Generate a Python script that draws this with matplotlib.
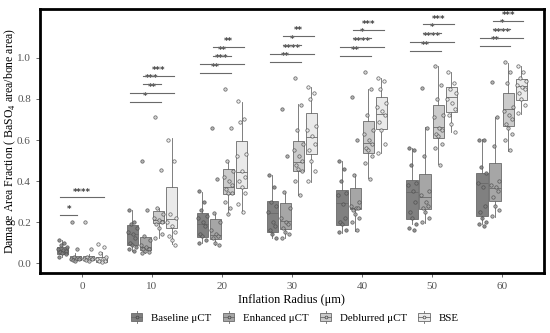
import matplotlib
matplotlib.use("Agg")
import matplotlib.pyplot as plt
import matplotlib.patches as mpatches
from matplotlib.legend_handler import HandlerBase
from matplotlib.lines import Line2D

plt.rcParams['font.family'] = ['Liberation Serif', 'DejaVu Serif']
plt.rcParams['mathtext.fontset'] = 'custom'
plt.rcParams['mathtext.rm'] = 'Liberation Serif'

radius = [0, 10, 20, 30, 40, 50, 60]
series = ["Baseline μCT", "Enhanced μCT", "Deblurred μCT", "BSE"]
fills = ["#808080", "#a6a6a6", "#cbcbcb", "#eaeaea"]

# box statistics per series, one value per radius
q1 = {
    "Baseline μCT":  [0.045, 0.088, 0.128, 0.153, 0.185, 0.213, 0.229],
    "Enhanced μCT":  [0.015, 0.063, 0.115, 0.166, 0.263, 0.262, 0.304],
    "Deblurred μCT": [0.016, 0.193, 0.335, 0.449, 0.535, 0.608, 0.670],
    "BSE":           [0.006, 0.169, 0.364, 0.530, 0.652, 0.738, 0.795],
}
med = {
    "Baseline μCT":  [0.062, 0.140, 0.190, 0.242, 0.294, 0.345, 0.389],
    "Enhanced μCT":  [0.022, 0.080, 0.136, 0.206, 0.267, 0.320, 0.364],
    "Deblurred μCT": [0.022, 0.210, 0.369, 0.491, 0.584, 0.662, 0.750],
    "BSE":           [0.015, 0.215, 0.445, 0.613, 0.727, 0.808, 0.863],
}
q3 = {
    "Baseline μCT":  [0.080, 0.185, 0.245, 0.304, 0.356, 0.405, 0.440],
    "Enhanced μCT":  [0.032, 0.128, 0.213, 0.291, 0.364, 0.433, 0.486],
    "Deblurred μCT": [0.033, 0.254, 0.457, 0.597, 0.694, 0.771, 0.831],
    "BSE":           [0.030, 0.369, 0.597, 0.733, 0.808, 0.860, 0.898],
}
lo = {
    "Baseline μCT":  [0.030, 0.060, 0.097, 0.120, 0.148, 0.190, 0.190],
    "Enhanced μCT":  [0.008, 0.050, 0.090, 0.124, 0.158, 0.197, 0.226],
    "Deblurred μCT": [0.010, 0.120, 0.238, 0.332, 0.413, 0.483, 0.548],
    "BSE":           [0.004, 0.093, 0.245, 0.397, 0.535, 0.640, 0.725],
}
hi = {
    "Baseline μCT":  [0.110, 0.258, 0.348, 0.429, 0.500, 0.559, 0.603],
    "Enhanced μCT":  [0.050, 0.128, 0.245, 0.345, 0.434, 0.662, 0.711],
    "Deblurred μCT": [0.045, 0.270, 0.500, 0.774, 0.849, 0.961, 0.977],
    "BSE":           [0.055, 0.608, 0.787, 0.857, 0.900, 0.933, 0.961],
}

baseline_pts = [
    [0.11, 0.10, 0.09, 0.08, 0.07, 0.065, 0.06, 0.055, 0.05, 0.045, 0.03],
    [0.26, 0.20, 0.19, 0.17, 0.15, 0.14, 0.12, 0.10, 0.09, 0.08, 0.07, 0.06],
    [0.35, 0.30, 0.26, 0.23, 0.22, 0.20, 0.18, 0.14, 0.13, 0.11, 0.10],
    [0.43, 0.37, 0.30, 0.28, 0.25, 0.20, 0.18, 0.16, 0.14, 0.12],
    [0.50, 0.46, 0.40, 0.34, 0.33, 0.29, 0.22, 0.20, 0.19, 0.16, 0.15],
    [0.56, 0.55, 0.48, 0.39, 0.38, 0.35, 0.30, 0.25, 0.22, 0.19, 0.17, 0.16],
    [0.60, 0.60, 0.47, 0.44, 0.39, 0.37, 0.28, 0.25, 0.22, 0.20, 0.19, 0.18],
]
enhanced_pts = [
    [0.20, 0.07, 0.03, 0.025, 0.02, 0.02, 0.018, 0.015, 0.012],
    [0.50, 0.26, 0.13, 0.11, 0.09, 0.08, 0.07, 0.07, 0.06, 0.055, 0.05],
    [0.66, 0.41, 0.245, 0.20, 0.16, 0.14, 0.13, 0.12, 0.10, 0.09],
    [0.75, 0.52, 0.345, 0.27, 0.22, 0.20, 0.19, 0.17, 0.15, 0.14, 0.124],
    [0.81, 0.60, 0.43, 0.30, 0.28, 0.27, 0.27, 0.26, 0.24, 0.22, 0.20, 0.16],
    [0.855, 0.66, 0.52, 0.35, 0.33, 0.30, 0.28, 0.27, 0.25, 0.22, 0.20],
    [0.885, 0.71, 0.57, 0.40, 0.38, 0.37, 0.35, 0.32, 0.28, 0.26, 0.23],
]
deblurred_pts = [
    [0.20, 0.07, 0.03, 0.025, 0.022, 0.02, 0.018, 0.015, 0.012],
    [0.71, 0.455, 0.27, 0.24, 0.22, 0.21, 0.20, 0.19, 0.17, 0.14, 0.12],
    [0.85, 0.66, 0.50, 0.45, 0.42, 0.40, 0.38, 0.36, 0.34, 0.34, 0.30, 0.27, 0.24],
    [0.90, 0.77, 0.65, 0.58, 0.55, 0.52, 0.50, 0.48, 0.46, 0.45, 0.40, 0.33],
    [0.93, 0.85, 0.72, 0.65, 0.63, 0.60, 0.58, 0.56, 0.55, 0.52, 0.49, 0.41],
    [0.96, 0.87, 0.80, 0.72, 0.71, 0.66, 0.65, 0.63, 0.62, 0.58, 0.56, 0.48],
    [0.98, 0.93, 0.88, 0.76, 0.74, 0.72, 0.70, 0.68, 0.66, 0.63, 0.60, 0.55],
]
bse_pts = [
    [0.095, 0.08, 0.05, 0.03, 0.02, 0.015, 0.01, 0.008, 0.006],
    [0.60, 0.50, 0.24, 0.22, 0.20, 0.18, 0.15, 0.13, 0.11, 0.09],
    [0.79, 0.70, 0.69, 0.53, 0.52, 0.45, 0.42, 0.40, 0.37, 0.34, 0.29, 0.25],
    [0.86, 0.83, 0.80, 0.67, 0.65, 0.62, 0.58, 0.55, 0.50, 0.45, 0.40],
    [0.90, 0.89, 0.85, 0.78, 0.76, 0.74, 0.72, 0.69, 0.65, 0.58, 0.535],
    [0.93, 0.88, 0.85, 0.83, 0.80, 0.78, 0.75, 0.72, 0.68, 0.64],
    [0.96, 0.93, 0.90, 0.89, 0.87, 0.86, 0.85, 0.83, 0.80, 0.77, 0.73],
]
points = {"Baseline μCT": baseline_pts, "Enhanced μCT": enhanced_pts,
          "Deblurred μCT": deblurred_pts, "BSE": bse_pts}

# significance brackets: (radius index, series a, series b, height, label)
sig = [
    (0, 0, 1, 0.235, "*"), (0, 0, 3, 0.320, "****"),
    (1, 0, 2, 0.787, "*"), (1, 0, 3, 0.831, "**"), (1, 1, 2, 0.872, "***"), (1, 1, 3, 0.914, "***"),
    (2, 0, 2, 0.928, "**"), (2, 0, 3, 0.972, "***"), (2, 1, 2, 1.011, "**"), (2, 1, 3, 1.055, "**"),
    (3, 0, 2, 0.979, "**"), (3, 0, 3, 1.021, "****"), (3, 1, 2, 1.062, "*"), (3, 1, 3, 1.106, "**"),
    (4, 0, 2, 1.011, "**"), (4, 0, 3, 1.054, "****"), (4, 1, 2, 1.096, "*"), (4, 1, 3, 1.138, "***"),
    (5, 0, 2, 1.036, "**"), (5, 0, 3, 1.078, "****"), (5, 1, 2, 1.122, "*"), (5, 1, 3, 1.164, "***"),
    (6, 0, 2, 1.057, "**"), (6, 0, 3, 1.098, "****"), (6, 1, 2, 1.140, "*"), (6, 1, 3, 1.180, "***"),
]

offsets = [-0.28, -0.094, 0.094, 0.28]
box_w = 0.165
jitter = [-0.05, 0.03, -0.02, 0.06, -0.06, 0.01, 0.045, -0.035, 0.0, 0.055, -0.045, 0.02, -0.01]
edge = "#6a6a6a"


class BoxHandler(HandlerBase):
    def create_artists(self, legend, orig_handle, xdescent, ydescent, width, height, fontsize, trans):
        fc = orig_handle.get_facecolor()
        cx = width / 2 - xdescent
        w = width * 0.8
        rect = mpatches.Rectangle((cx - w / 2, -ydescent + 0.05 * height), w, 0.9 * height,
                                  facecolor=fc, edgecolor=edge, lw=0.6, transform=trans)
        vl = Line2D([cx, cx], [-ydescent - 0.2 * height, -ydescent + 1.2 * height], color=edge, lw=0.6, transform=trans)
        ml = Line2D([cx - w / 2, cx + w / 2], [-ydescent + 0.5 * height] * 2, color=edge, lw=0.6, transform=trans)
        dot = Line2D([cx], [-ydescent + 0.5 * height], marker="o", ms=2, mfc=fc, mec="#444444", mew=0.5, transform=trans)
        return [vl, rect, ml, dot]


fig = plt.figure(figsize=(5.5, 3.33), dpi=100)
ax = fig.add_axes([0.0727, 0.18, 0.916, 0.793])

for s_i, name in enumerate(series):
    stats = []
    pos = []
    for g in range(len(radius)):
        stats.append(dict(med=med[name][g], q1=q1[name][g], q3=q3[name][g],
                          whislo=lo[name][g], whishi=hi[name][g], fliers=[]))
        pos.append(g + 1 + offsets[s_i])
    ax.bxp(stats, positions=pos, widths=box_w, patch_artist=True, showfliers=False, showcaps=False,
           boxprops=dict(facecolor=fills[s_i], edgecolor=edge, lw=0.6),
           medianprops=dict(color=edge, lw=0.6),
           whiskerprops=dict(color=edge, lw=0.6), zorder=2)
    for g in range(len(radius)):
        vals = points[name][g]
        xs = [g + 1 + offsets[s_i] + jitter[k % len(jitter)] for k in range(len(vals))]
        ax.scatter(xs, vals, s=6, facecolor=fills[s_i], edgecolor="#4a4a4a", linewidths=0.5, zorder=3, alpha=0.85)

for g, a, b, h, lab in sig:
    xa = g + 1 + offsets[a] - 0.03
    xb = g + 1 + offsets[b] + 0.03
    ax.plot([xa, xb], [h, h], color="#6a6a6a", lw=0.8, zorder=4)
    ax.text((xa + xb) / 2, h + 0.004, lab, ha="center", va="bottom", fontsize=6.2,
            fontfamily="DejaVu Sans", fontweight="bold", color="#3a3a3a")

ax.set_xlim(0.4, 7.6)
ax.set_ylim(-0.049, 1.239)
ax.set_xticks(range(1, len(radius) + 1))
ax.set_xticklabels([str(r) for r in radius])
ax.set_yticks([0.0, 0.2, 0.4, 0.6, 0.8, 1.0])
ax.set_yticklabels(["0.0", "0.2", "0.4", "0.6", "0.8", "1.0"])
ax.tick_params(labelsize=8, colors="#555555", length=3, width=0.6)
for sp in ax.spines.values():
    sp.set_linewidth(2)
    sp.set_color("black")

ax.set_xlabel("Inflation Radius (μm)", fontsize=8.8, labelpad=2)
ax.set_ylabel("Damage Area Fraction ( BaSO$_4$ area/bone area)", fontsize=8.5)
ax.yaxis.set_label_coords(-0.043, 0.5)

handles = [mpatches.Patch(facecolor=f, edgecolor=edge, label=n) for f, n in zip(fills, series)]
fig.legend(handles=handles, loc="center", bbox_to_anchor=(0.535, 0.046), ncol=4, frameon=False,
           fontsize=7.8, handler_map={mpatches.Patch: BoxHandler()}, handlelength=1.3, handleheight=0.8,
           columnspacing=0.9, handletextpad=0.7)

fig.savefig("out.png", dpi=100)
